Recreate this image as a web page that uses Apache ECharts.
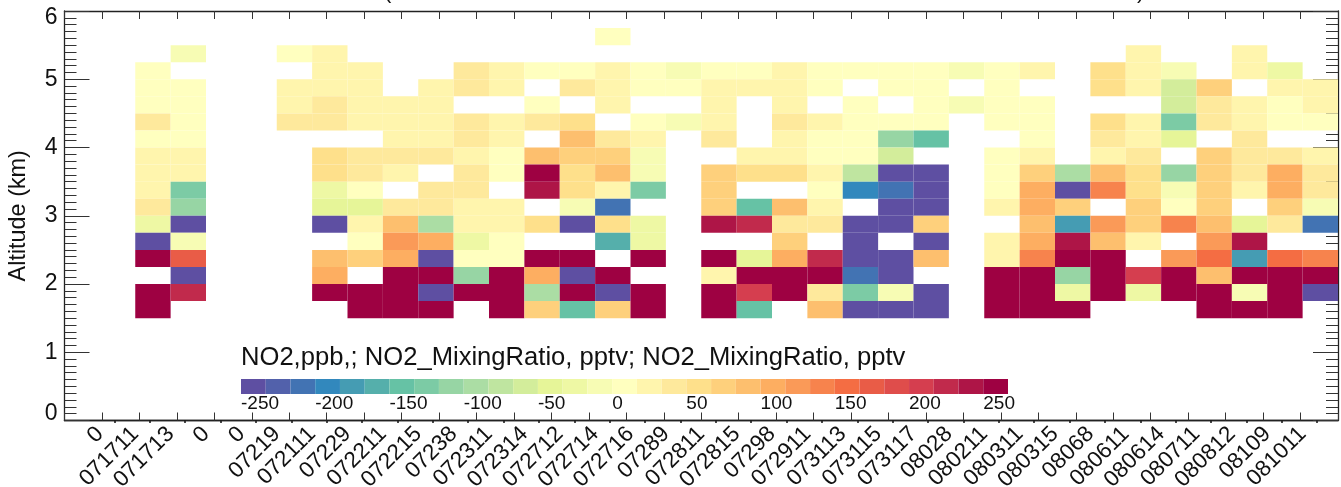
<!DOCTYPE html>
<html>
<head>
<meta charset="utf-8">
<style>html,body{margin:0;padding:0;background:#fff}#c{width:1341px;height:487px}</style>
<script src="https://cdn.jsdelivr.net/npm/echarts@6/dist/echarts.min.js"></script>
</head>
<body>
<div id="c"></div>
<script>
const _ = null;
const tickLabels = ['0','071711','071713','0','0','07219','072111','07229','072211','072215','07238','072311','072314','072712','072714','072716','07289','072811','072815','07298','072911','073113','073115','073117','08028','080211','080311','080315','08068','080611','080614','080711','080812','08109','081011'];
const altitudes = [5.5,5.25,5,4.75,4.5,4.25,4,3.75,3.5,3.25,3,2.75,2.5,2.25,2,1.75,1.5];
const firstColumn = 2;
const columnValues = [
 [_,_,0,0,0,42,0,25,25,25,42,-25,-250,250,_,250,250],
 [_,-8,_,0,0,0,0,25,25,-125,-108,-250,-8,175,-250,225,_],
 [_,_,_,_,_,_,_,_,_,_,_,_,_,_,_,_,_],
 [_,_,_,_,_,_,_,_,_,_,_,_,_,_,_,_,_],
 [_,0,_,25,25,42,_,_,_,_,_,_,_,_,_,_,_],
 [_,25,25,25,42,42,_,58,58,-25,-42,-250,_,92,108,250,_],
 [_,_,25,25,25,25,_,42,42,0,-42,25,0,75,_,250,250],
 [_,_,_,_,25,25,25,42,25,_,42,92,125,108,250,250,250],
 [_,_,_,25,25,25,25,42,_,42,42,-92,108,-250,250,-250,250],
 [_,_,42,42,_,42,42,25,42,42,25,25,-25,0,-108,250,_],
 [_,_,25,25,_,25,25,0,0,_,25,25,0,0,250,250,250],
 [_,_,0,_,0,42,_,92,250,242,_,58,_,250,108,-92,75],
 [_,_,0,42,_,58,92,75,58,58,-8,-250,_,250,-250,250,-142],
 [0,_,25,25,25,_,42,75,92,25,-208,58,-158,_,250,-250,75],
 [_,_,0,0,_,0,25,-8,-8,-125,_,-25,-25,250,_,250,250],
 [_,_,-8,0,_,-8,_,_,_,_,_,_,_,_,_,_,_],
 [_,_,0,25,25,25,42,_,75,75,75,242,_,250,25,250,250],
 [_,_,0,25,_,_,_,25,58,_,-142,225,_,-42,250,208,-142],
 [_,_,25,25,25,42,25,25,58,_,92,42,75,108,250,250,_],
 [_,_,0,0,_,25,0,0,25,0,25,42,_,225,250,42,92],
 [_,_,0,_,0,0,0,0,-75,-192,_,-250,-250,-250,-208,-125,-250],
 [_,_,0,0,_,0,-108,-58,-250,-208,-250,-250,_,-250,-250,-8,-250],
 [_,_,0,0,0,0,-142,_,-250,-250,-250,75,-250,92,_,-250,-250],
 [_,_,-8,_,-8,_,_,_,_,_,_,_,_,_,_,_,_],
 [_,_,0,0,0,0,_,0,0,0,25,_,25,25,250,250,250],
 [_,_,25,_,0,0,0,25,75,108,108,92,108,142,250,250,250],
 [_,_,_,_,_,_,_,_,-92,-250,75,-175,242,250,-108,-25,250],
 [_,_,58,58,_,58,42,25,92,142,_,125,92,250,250,250,_],
 [_,25,25,25,_,25,25,42,58,58,75,75,25,_,208,-25,_],
 [_,_,-8,-58,-58,-125,-42,_,-108,-8,0,142,_,125,250,250,_],
 [_,_,_,75,42,42,_,75,75,75,75,92,125,158,92,250,250],
 [_,25,25,_,25,25,42,42,42,25,_,-42,242,-175,250,-8,250],
 [_,_,-25,25,0,0,_,42,108,108,75,42,_,158,250,250,250],
 [_,_,_,25,25,0,_,25,42,42,-8,-208,_,142,250,-250,_]
];
const palette = ['#5e4fa2','#5261ab','#4273b3','#3288bd','#459cb3','#55afab','#66c2a5','#7ccba5','#97d5a4','#abdda4','#bfe5a0','#d3ed9b','#e6f598','#eef8a4','#f7fcb4','#ffffbf','#fff5ad','#fee99c','#fee08b','#fed07c','#fdbf6e','#fdae61','#fa9a58','#f7834d','#f46d43','#e95c47','#df4d4b','#d53e4f','#c12a4c','#ae1547','#9e0142'];
const scaleMin = -250, binWidth = 50 / 3, rowHeight = 0.25;
const binOf = v => Math.min(palette.length - 1, Math.max(0, Math.floor((v - scaleMin) / binWidth + 1e-6)));

const cells = [];
columnValues.forEach((col, i) => col.forEach((v, j) => {
  if (v !== null) cells.push([i + firstColumn, altitudes[j], v]);
}));
const scaleBins = palette.map((c, i) => [scaleMin + i * binWidth, scaleMin + (i + 1) * binWidth, i]);

const FONT = 'Liberation Sans';
const INK = '#333';
const plotGrid = {left: 64.5, right: 3, top: 11, height: 409.5, outerBoundsMode: 'none', containLabel: false};
const frameLine = {show: true, onZero: false, lineStyle: {color: '#222', width: 1.3}};
const tickAxisBase = {type: 'value', min: 0, max: 34, interval: 1, gridIndex: 0, axisLabel: {show: false},
  axisLine: frameLine,
  axisTick: {show: true, inside: true, length: 8, lineStyle: {color: INK}}, splitLine: {show: false}};
const yAxisBase = {type: 'value', min: 0, max: 6, interval: 1, gridIndex: 0,
  axisLine: frameLine,
  axisTick: {show: true, inside: true, length: 25, lineStyle: {color: INK}},
  minorTick: {show: true, splitNumber: 10, length: 12, lineStyle: {color: INK}},
  splitLine: {show: false}};

const option = {
  animation: false,
  backgroundColor: '#fff',
  textStyle: {fontFamily: FONT},
  grid: [plotGrid, {left: 241, width: 767, top: 379, height: 15, outerBoundsMode: 'none'}],
  xAxis: [
    {type: 'value', min: 0, max: 36, interval: 1, gridIndex: 0, position: 'bottom',
     axisLine: frameLine,
     axisTick: {show: true, inside: false, length: 2.5, lineStyle: {color: '#111', width: 1.5},
                customValues: tickLabels.map((t, i) => i + 1.41)},
     axisLabel: {show: true, rotate: 45, fontSize: 22.5, color: '#111', margin: 10, fontFamily: FONT,
                 customValues: tickLabels.map((t, i) => i + 1),
                 formatter: v => tickLabels[Math.round(v) - 1] || ''},
     splitLine: {show: false}},
    Object.assign({}, tickAxisBase, {position: 'bottom'}),
    Object.assign({}, tickAxisBase, {position: 'top'}),
    {type: 'value', min: scaleMin, max: scaleMin + palette.length * binWidth, interval: 50, gridIndex: 1, position: 'bottom',
     axisLine: {show: false, onZero: false}, axisTick: {show: false}, splitLine: {show: false},
     axisLabel: {show: true, align: 'left', fontSize: 19, color: '#111', margin: 0, hideOverlap: false, showMaxLabel: false, fontFamily: FONT}}
  ],
  yAxis: [
    Object.assign({}, yAxisBase, {position: 'left', name: 'Altitude (km)', nameLocation: 'middle', nameGap: 34, nameMoveOverlap: false,
      nameTextStyle: {fontSize: 23.4, color: '#111', fontFamily: FONT},
      axisLabel: {show: true, fontSize: 23, lineHeight: 14, color: '#111', margin: 7, fontFamily: FONT,
                  verticalAlignMaxLabel: 'top', verticalAlignMinLabel: 'bottom'}}),
    Object.assign({}, yAxisBase, {position: 'right', axisLabel: {show: false}}),
    {type: 'value', min: 0, max: 1, gridIndex: 1, show: false}
  ],
  series: [
    {type: 'custom', xAxisIndex: 0, yAxisIndex: 0, data: cells, clip: false,
     encode: {x: 0, y: 1},
     renderItem: (params, api) => {
       const a = api.coord([api.value(0), api.value(1) + rowHeight]);
       const b = api.coord([api.value(0) + 1, api.value(1)]);
       return {type: 'rect', shape: {x: a[0], y: a[1], width: b[0] - a[0], height: b[1] - a[1]},
               style: {fill: palette[binOf(api.value(2))]}};
     }},
    {type: 'custom', xAxisIndex: 3, yAxisIndex: 2, data: scaleBins, clip: false,
     encode: {x: [0, 1]},
     renderItem: (params, api) => {
       const a = api.coord([api.value(0), 1]);
       const b = api.coord([api.value(1), 0]);
       return {type: 'rect', shape: {x: a[0], y: a[1], width: b[0] - a[0], height: b[1] - a[1]},
               style: {fill: palette[api.value(2)]}};
     }}
  ],
  graphic: [
    {type: 'text', left: 241, top: 345, silent: true,
     style: {text: 'NO2,ppb,; NO2_MixingRatio, pptv; NO2_MixingRatio, pptv', font: '25.6px "Liberation Sans"', fill: '#111'}},
    {type: 'text', left: 384, top: -19, silent: true, style: {text: '(', font: '22px "Liberation Sans"', fill: '#111'}},
    {type: 'text', left: 1137, top: -19, silent: true, style: {text: ')', font: '22px "Liberation Sans"', fill: '#111'}}
  ]
};
echarts.init(document.getElementById('c'), null, {renderer: 'canvas'}).setOption(option);
</script>
</body>
</html>
